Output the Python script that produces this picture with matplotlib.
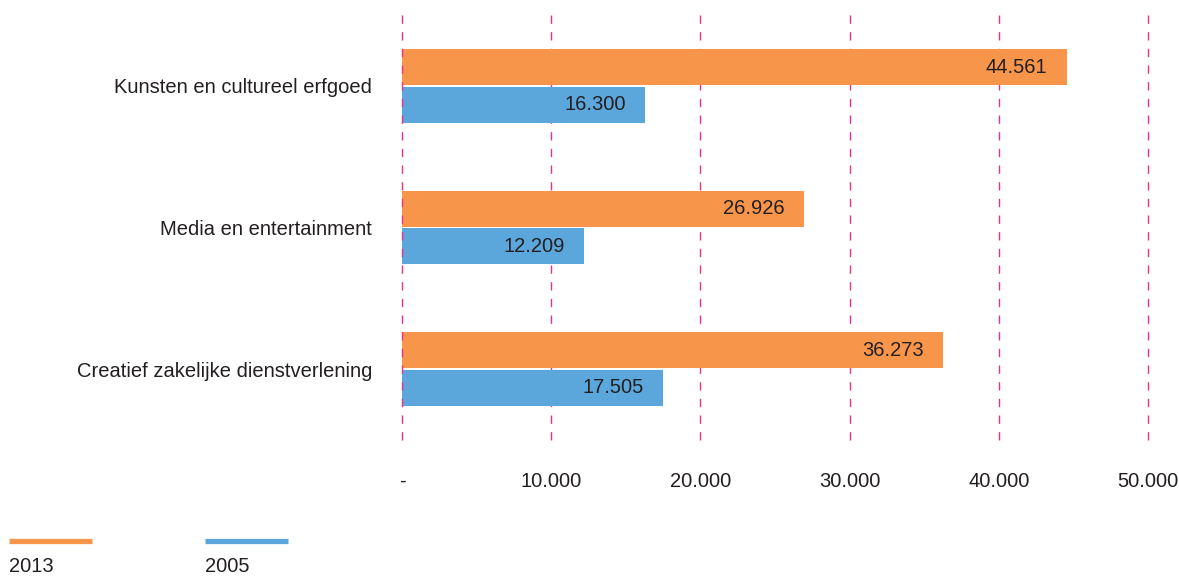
import matplotlib.pyplot as plt
import numpy as np

categories = ["Kunsten en cultureel erfgoed", "Media en entertainment",
              "Creatief zakelijke dienstverlening"]
v2013 = [44561, 26926, 36273]
v2005 = [16300, 12209, 17505]
xticks = [0, 10000, 20000, 30000, 40000, 50000]
xticklabels = ["-", "10.000", "20.000", "30.000", "40.000", "50.000"]

orange = "#f7964a"
blue = "#5ba7db"
txt = "#231f20"
fs = 14.5

plt.rcParams['font.family'] = ['Liberation Sans', 'DejaVu Sans']

fig = plt.figure(figsize=(11.79, 5.77), dpi=100)
ax = fig.add_axes([0.341, 0.2374, 0.6327, 0.7366])

y = np.arange(len(categories))
h = 0.255
b1 = ax.barh(y - h / 2 - 0.005, v2013, height=h, color=orange, zorder=2)
b2 = ax.barh(y + h / 2 + 0.005, v2005, height=h, color=blue, zorder=2)

def fmt(v):
    return f"{v:,}".replace(",", ".")

for bars, vals in [(b1, v2013), (b2, v2005)]:
    for bar, v in zip(bars, vals):
        ax.annotate(fmt(v), (v, bar.get_y() + bar.get_height() / 2),
                    xytext=(-14, 0), textcoords="offset points",
                    ha="right", va="center", fontsize=fs, color=txt, zorder=4)

ax.set_xlim(0, 50000)
ax.set_ylim(2.5, -0.5)
ax.set_xticks(xticks)
ax.set_xticklabels(xticklabels, fontsize=fs, color=txt)
ax.set_yticks(y)
ax.set_yticklabels(categories, fontsize=fs, color=txt)
ax.tick_params(axis="x", length=0, pad=23)
ax.tick_params(axis="y", length=0, pad=21.5)
for s in ax.spines.values():
    s.set_visible(False)
for xt in xticks:
    ax.axvline(xt, color="#e8318a", lw=1, dashes=(6, 6),
               zorder=3 if xt == 0 else 1, clip_on=False)

# legend drawn as lines with labels below
fig.lines.append(plt.Line2D([9 / 1179, 92 / 1179], [1 - 541 / 577] * 2,
                            transform=fig.transFigure, color=orange, lw=3.8,
                            solid_capstyle="butt"))
fig.lines.append(plt.Line2D([205 / 1179, 288 / 1179], [1 - 541 / 577] * 2,
                            transform=fig.transFigure, color=blue, lw=3.8,
                            solid_capstyle="butt"))
fig.text(9 / 1179, 1 - 566 / 577, "2013", fontsize=fs, color=txt, va="center")
fig.text(205 / 1179, 1 - 566 / 577, "2005", fontsize=fs, color=txt, va="center")

fig.savefig("out.png", dpi=100)
